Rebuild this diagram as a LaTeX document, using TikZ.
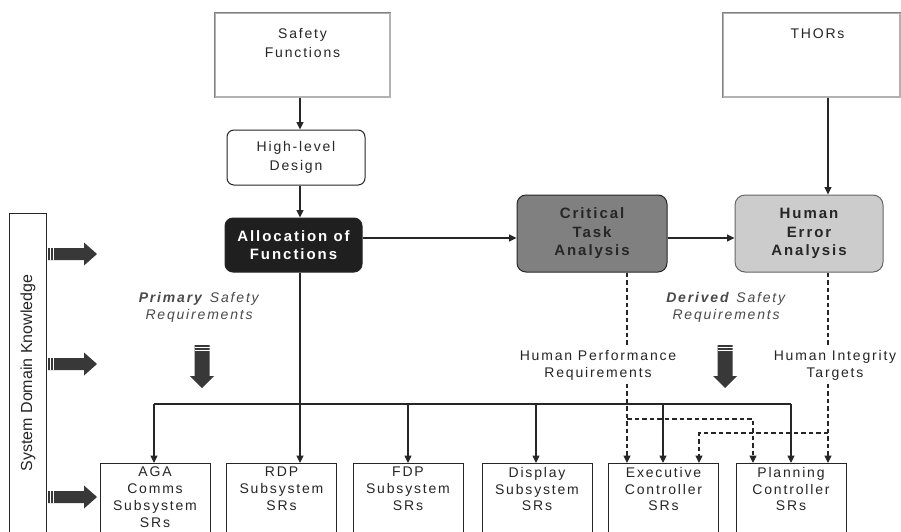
\documentclass[tikz,border=0pt]{standalone}
\usepackage{fontspec}
\setmainfont{Liberation Sans}[LetterSpace=13]
\usetikzlibrary{arrows.meta,calc}
\definecolor{ink}{HTML}{262626}
\definecolor{soft}{HTML}{4a4a4a}
\begin{document}
\begin{tikzpicture}[x=1pt,y=-1pt,
  every node/.style={font=\fontsize{14}{18.5}\selectfont, text=ink, align=center},
  link/.style={draw=ink, line width=1.1pt, -{Triangle[length=7.5pt,width=7pt]}},
  plainlink/.style={draw=ink, line width=1.1pt},
  dlink/.style={draw=ink, line width=1.1pt, dash pattern=on 4.5pt off 3pt},
  dlinkarr/.style={dlink, -{Triangle[length=7.5pt,width=7pt]}},
  srcbox/.style={draw=black!30, line width=1.2pt, fill=white, minimum width=175, minimum height=84},
  toplab/.style={anchor=north, inner sep=0pt, yshift=-16pt, font=\fontsize{14}{19}\selectfont},
  ssbox/.style={draw=ink, line width=1pt, fill=white, minimum width=110, minimum height=95, anchor=north},
  sslab/.style={anchor=north, inner sep=0pt, yshift=-4pt, font=\fontsize{14}{16.8}\selectfont},
  rbox/.style={draw=ink, line width=1pt, rounded corners=8pt},
  boldtxt/.style={font=\bfseries\fontsize{15}{18.5}\selectfont},
  note/.style={font=\fontsize{14}{17}\selectfont},
  fatright/.pic={
    \fill[black!78] (0,-6) -- (36,-6) -- (36,-11.5) -- (49,0) -- (36,11.5) -- (36,6) -- (0,6) -- cycle;
    \draw[white, line width=0.6pt] (2.5,-6) -- (2.5,6) (5.5,-6) -- (5.5,6);
  },
  fatdown/.pic={
    \fill[black!78] (-7.5,0) -- (-7.5,31) -- (-12,31) -- (0,43) -- (12,31) -- (7.5,31) -- (7.5,0) -- cycle;
    \draw[white, line width=0.6pt] (-7.5,2.5) -- (7.5,2.5) (-7.5,5.5) -- (7.5,5.5);
  }
]
\useasboundingbox (0,0) rectangle (901,531);
\clip (0,0) rectangle (901,531);
\fill[white] (0,0) rectangle (901,531);

% source boxes
\node[srcbox, label={[toplab]north:{Safety\\Functions}}] (sf) at (302.5,55) {};
\draw[black!50, line width=1.6pt] (sf.south west) -- (sf.north west) -- (sf.north east);
\node[srcbox, minimum width=177, label={[toplab, xshift=6pt]north:{THORs}}] (thors) at (811.5,55) {};
\draw[black!50, line width=1.6pt] (thors.south west) -- (thors.north west) -- (thors.north east);

% process boxes
\node[rbox, rounded corners=7pt, fill=white, minimum width=138, minimum height=55] (hld) at (296,157.5) {High-level\\Design};
\node[rbox, fill=black!88, minimum width=137, minimum height=54, text=white, boldtxt] (alloc) at (293.5,245) {Allocation of\\Functions};
\node[rbox, rounded corners=9pt, fill=black!50, minimum width=150, minimum height=77, text=black!85, boldtxt] (cta) at (592,233.5) {Critical\\Task\\Analysis};
\node[rbox, rounded corners=10pt, fill=black!20, draw=black!60, minimum width=148, minimum height=77, text=black!85, boldtxt] (hea) at (809,233.5) {Human\\Error\\Analysis};

% system domain knowledge bar
\node[draw=ink, line width=1pt, minimum width=37, minimum height=340, anchor=north] (sdk) at (27.5,213) {};
\node[rotate=90, font=\addfontfeature{LetterSpace=0}\fontsize{16}{18}\selectfont] (sdk-txt) at (28,373) {System Domain Knowledge};

% subsystem requirement boxes
\node[ssbox, label={[sslab]north:{AGA\\Comms\\Subsystem\\SRs}}] (aga) at (155,463) {};
\node[ssbox, label={[sslab]north:{RDP\\Subsystem\\SRs}}] (rdp) at (281.5,463) {};
\node[ssbox, label={[sslab]north:{FDP\\Subsystem\\SRs}}] (fdp) at (408,463) {};
\node[ssbox, label={[sslab]north:{Display\\Subsystem\\SRs}}] (disp) at (537,463) {};
\node[ssbox, label={[sslab]north:{Executive\\Controller\\SRs}}] (exec) at (663.5,463) {};
\node[ssbox, label={[sslab]north:{Planning\\Controller\\SRs}}] (plan) at (791,463) {};

% annotations
\node[note, text=soft] (prim) at (200,307) {\textbf{\textit{Primary}} \textit{Safety}\\\textit{Requirements}};
\node[note, text=soft] (deriv) at (727,307) {\textbf{\textit{Derived}} \textit{Safety}\\\textit{Requirements}};
\node[note] (hpr) at (598,365) {Human Performance\\Requirements};
\node[note] (hit) at (835,365) {Human Integrity\\Targets};

% fixed columns for the vertical connectors
\coordinate (vx) at (300,0);
\coordinate (cx) at (627,0);
\coordinate (tx) at (828,0);

% main flow
\draw[link] (sf.south -| vx) -- (hld.north -| vx);
\draw[link] (hld.south -| vx) -- (alloc.north -| vx);
\draw[link] (alloc.east |- 0,238) -- (cta.west |- 0,238);
\draw[link] (cta.east |- 0,238) -- (hea.west |- 0,238);
\draw[link] (thors.south -| tx) -- (hea.north -| tx);

% distribution bus
\coordinate (b1) at (154,404);
\coordinate (b3) at (408,404);
\coordinate (b4) at (536,404);
\coordinate (b5) at (663,404);
\coordinate (b6) at (791,404);
\draw[plainlink] (b1) -- (b6);
\draw[link] (alloc.south -| vx) -- (rdp.north -| vx);
\draw[link] (b1) -- (b1 |- aga.north);
\draw[link] (b3) -- (b3 |- fdp.north);
\draw[link] (b4) -- (b4 |- disp.north);
\draw[link] (b5) -- (b5 |- exec.north);
\draw[link] (b6) -- (b6 |- plan.north);

% derived requirement flows
\draw[dlink] (cta.south -| cx) -- (hpr.north -| cx);
\draw[dlinkarr] (hpr.south -| cx) -- (exec.north -| cx);
\coordinate (p1) at (627,419);
\coordinate (p2) at (753,419);
\draw[dlinkarr] (p1) -- (p2) -- (p2 |- plan.north);
\draw[dlink] (hea.south -| tx) -- (hit.north -| tx);
\draw[dlinkarr] (hit.south -| tx) -- (plan.north -| tx);
\coordinate (q1) at (828,433);
\coordinate (q2) at (699,433);
\draw[dlinkarr] (q1) -- (q2) -- (q2 |- exec.north);

% knowledge and requirement block arrows
\pic at (48,254) {fatright};
\pic at (48,364) {fatright};
\pic at (48,497) {fatright};
\pic at (202,345) {fatdown};
\pic at (725,345) {fatdown};
\end{tikzpicture}
\end{document}
